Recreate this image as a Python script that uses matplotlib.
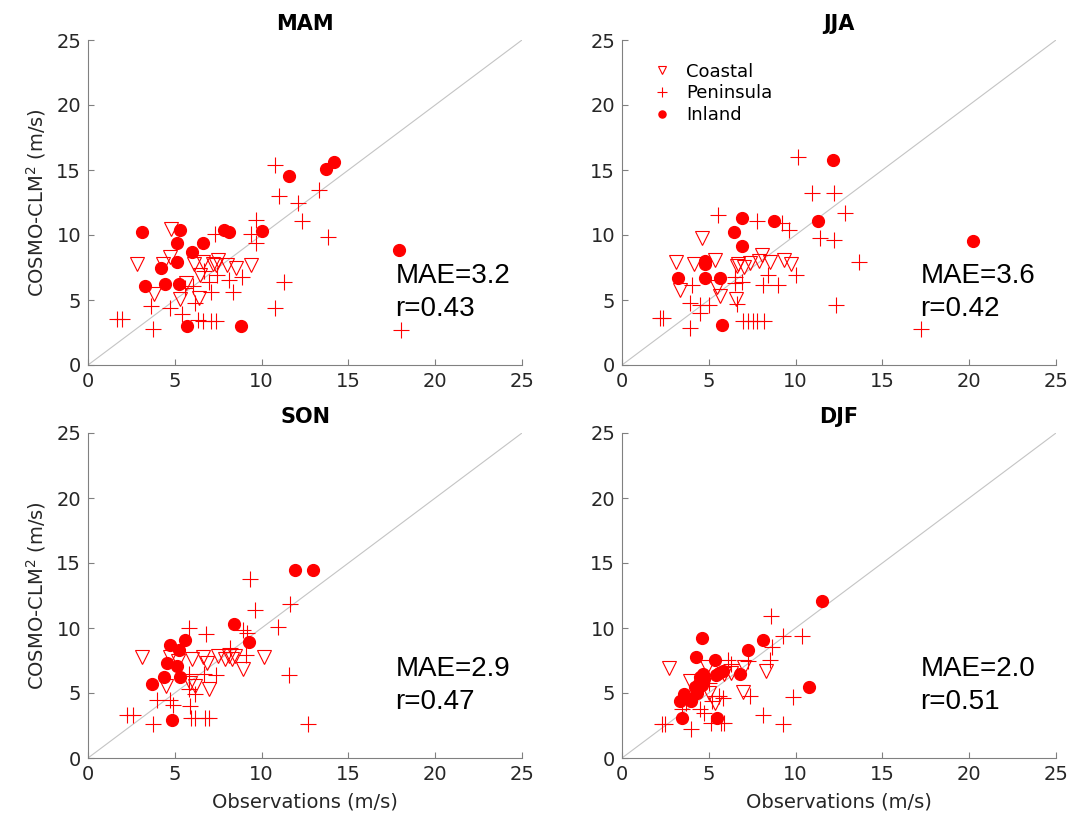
import numpy as np
import matplotlib
matplotlib.use("Agg")
import matplotlib.pyplot as plt

plt.rcParams['font.family'] = ['DejaVu Sans']

seasons = ['MAM', 'JJA', 'SON', 'DJF']
mae = ['3.2', '3.6', '2.9', '2.0']
corr = ['0.43', '0.42', '0.47', '0.51']

# MAM
mam_inland_x = [3.1, 5.3, 5.1, 6.6, 6.0, 7.85, 8.1, 10.05, 4.2, 5.15, 3.3, 4.45, 5.25, 5.7, 8.8, 11.55, 13.7, 14.15, 17.9]
mam_inland_y = [10.2, 10.4, 9.4, 9.35, 8.7, 10.4, 10.25, 10.3, 7.45, 7.95, 6.05, 6.2, 6.2, 3.0, 3.0, 14.55, 15.1, 15.6, 8.85]
mam_coastal_x = [4.8, 2.85, 4.7, 4.3, 3.8, 5.3, 6.1, 6.65, 6.45, 6.4, 7.2, 7.5, 7.4, 8.0, 8.5, 9.4, 5.65]
mam_coastal_y = [10.45, 7.8, 8.3, 7.75, 5.5, 5.05, 7.75, 7.95, 6.9, 5.15, 7.8, 8.1, 7.7, 7.7, 7.45, 7.7, 6.3]
mam_pen_x = [10.75, 11.0, 13.3, 12.1, 12.35, 13.85, 9.7, 9.4, 9.7, 7.3, 11.3, 10.75, 8.85, 8.1, 8.35, 7.45, 6.95,
             7.1, 6.05, 6.15, 5.4, 4.7, 3.65, 3.75, 1.65, 1.95, 6.35, 6.65, 7.1, 7.4, 18.05, 5.6, 6.7]
mam_pen_y = [15.35, 13.0, 13.45, 12.45, 11.05, 9.85, 11.15, 10.1, 9.35, 10.05, 6.4, 4.35, 6.8, 6.55, 5.65, 6.9, 6.4,
             5.65, 6.05, 4.75, 3.95, 4.35, 4.55, 2.8, 3.55, 3.55, 3.45, 3.4, 3.35, 3.35, 2.7, 5.9, 7.2]

# JJA
jja_inland_x = [12.15, 11.3, 6.9, 8.75, 6.45, 6.9, 4.8, 4.8, 3.2, 4.8, 5.65, 5.75, 20.2]
jja_inland_y = [15.75, 11.1, 11.3, 11.1, 10.25, 9.15, 8.0, 7.75, 6.7, 6.7, 6.7, 3.05, 9.55]
jja_coastal_x = [4.6, 3.1, 4.15, 5.35, 3.35, 5.5, 5.65, 6.55, 6.7, 7.05, 7.4, 8.05, 7.9, 8.5, 9.35, 9.75, 6.6]
jja_coastal_y = [9.8, 7.95, 7.8, 8.05, 5.75, 6.0, 5.3, 5.05, 7.8, 7.55, 7.85, 8.45, 8.0, 7.95, 8.05, 7.8, 7.6]
jja_pen_x = [10.15, 10.95, 12.2, 12.85, 11.4, 12.2, 13.65, 12.35, 17.2, 5.55, 7.75, 9.2, 9.6, 10.05, 8.4, 8.1, 9.0,
             6.5, 6.5, 6.9, 4.05, 3.9, 4.5, 4.5, 5.0, 6.6, 2.2, 2.35, 3.9, 6.95, 7.25, 7.55, 7.75, 8.2]
jja_pen_y = [16.0, 13.25, 13.25, 11.7, 9.8, 9.65, 7.95, 4.6, 2.75, 11.55, 11.1, 10.9, 10.35, 6.9, 6.9, 6.15, 6.15,
             6.8, 6.3, 6.4, 6.15, 4.8, 4.6, 4.0, 4.6, 4.7, 3.65, 3.65, 2.85, 3.35, 3.4, 3.4, 3.35, 3.35]

# SON
son_inland_x = [11.95, 12.95, 8.4, 9.3, 4.7, 5.6, 5.25, 4.55, 5.1, 4.4, 5.3, 3.7, 4.85]
son_inland_y = [14.5, 14.5, 10.3, 8.9, 8.7, 9.1, 8.3, 7.3, 7.1, 6.2, 6.2, 5.7, 2.95]
son_coastal_x = [3.1, 4.7, 5.2, 4.5, 6.0, 6.6, 6.85, 6.15, 6.95, 7.5, 7.9, 8.15, 8.45, 8.3, 8.9, 10.15, 5.9]
son_coastal_y = [7.8, 7.8, 7.5, 5.55, 7.6, 7.8, 7.3, 5.55, 5.3, 7.85, 7.6, 7.85, 7.85, 7.6, 6.85, 7.8, 5.8]
son_pen_x = [9.35, 11.65, 9.6, 10.95, 5.8, 6.8, 8.95, 9.15, 11.55, 12.65, 9.1, 8.2, 7.35, 6.7, 5.8, 5.8, 6.15,
             3.95, 4.7, 4.9, 5.85, 2.25, 2.6, 3.75, 5.95, 6.15, 6.75, 6.95]
son_pen_y = [13.8, 11.85, 11.4, 10.1, 10.0, 9.55, 9.85, 9.65, 6.4, 2.65, 7.95, 8.5, 6.4, 6.5, 6.5, 5.3, 4.9,
             4.45, 4.45, 4.05, 4.0, 3.3, 3.3, 2.65, 3.1, 3.1, 3.1, 3.1]

# DJF
djf_inland_x = [11.5, 8.1, 7.25, 4.6, 4.25, 5.35, 10.75, 5.45, 3.45, 6.8, 5.8, 5.6, 5.4, 4.65, 4.5, 4.75, 4.2,
                3.6, 3.35, 4.0, 4.3, 4.6]
djf_inland_y = [12.05, 9.05, 8.3, 9.25, 7.75, 7.55, 5.5, 3.1, 3.1, 6.45, 6.7, 6.55, 6.4, 6.5, 6.2, 6.1, 5.45,
                4.9, 4.4, 4.4, 5.0, 5.6]
djf_coastal_x = [2.7, 4.9, 7.0, 8.3, 6.95, 5.35, 3.9, 5.9, 6.3, 5.0]
djf_coastal_y = [6.95, 7.0, 7.0, 6.7, 5.05, 4.25, 5.95, 6.5, 6.55, 5.0]
djf_pen_x = [8.6, 9.3, 10.35, 8.65, 8.55, 7.25, 6.1, 9.85, 8.1, 9.3, 7.35, 5.8, 5.6, 5.2, 4.5, 4.7, 5.1, 5.7,
             5.9, 2.3, 2.45, 3.95, 3.45, 3.7, 6.3, 5.0]
djf_pen_y = [10.9, 9.4, 9.35, 8.55, 7.55, 7.5, 7.55, 4.7, 3.3, 2.6, 4.8, 4.6, 4.75, 4.4, 3.8, 3.5, 2.7, 2.7,
             2.7, 2.6, 2.6, 2.2, 3.75, 4.2, 7.2, 5.8]

panels = [
    (mam_coastal_x, mam_coastal_y, mam_pen_x, mam_pen_y, mam_inland_x, mam_inland_y),
    (jja_coastal_x, jja_coastal_y, jja_pen_x, jja_pen_y, jja_inland_x, jja_inland_y),
    (son_coastal_x, son_coastal_y, son_pen_x, son_pen_y, son_inland_x, son_inland_y),
    (djf_coastal_x, djf_coastal_y, djf_pen_x, djf_pen_y, djf_inland_x, djf_inland_y),
]

W, H = 1086, 827
fig = plt.figure(figsize=(W / 100, H / 100), dpi=100)
lefts = [88, 622]
tops = [40, 433]
aw, ah = 434, 325

spine_c = '#808080'
txt_c = '#262626'
red = '#ff0000'

for i, season in enumerate(seasons):
    r, c = divmod(i, 2)
    ax = fig.add_axes([lefts[c] / W, 1 - (tops[r] + ah) / H, aw / W, ah / H])
    cx, cy, px, py, ix, iy = panels[i]

    ax.plot([0, 25], [0, 25], color='#c4c4c4', lw=0.8, zorder=1)
    ax.plot(cx, cy, linestyle='none', color=red, marker='v', ms=10.5, mfc='none', mec=red, mew=0.8,
            label='Coastal')
    ax.plot(px, py, linestyle='none', color=red, marker='+', ms=11, mec=red, mew=0.8, label='Peninsula')
    ax.plot(ix, iy, linestyle='none', color=red, marker='o', ms=8.5, mfc=red, mec=red, label='Inland')

    x_txt = 17.7 if c == 0 else 17.2
    ax.text(x_txt, 6.3, 'MAE=' + mae[i], fontsize=20, family='Liberation Sans', color='black', va='baseline')
    ax.text(x_txt, 3.8, 'r=' + corr[i], fontsize=20, family='Liberation Sans', color='black', va='baseline')

    ax.set_xlim(0, 25)
    ax.set_ylim(0, 25)
    ax.set_xticks(np.arange(0, 26, 5))
    ax.set_yticks(np.arange(0, 26, 5))
    for s in ['top', 'right']:
        ax.spines[s].set_visible(False)
    for s in ['left', 'bottom']:
        ax.spines[s].set_color(spine_c)
        ax.spines[s].set_linewidth(0.8)
    ax.tick_params(direction='in', length=4, width=0.8, color=spine_c, labelsize=14,
                   labelcolor=txt_c, pad=5)
    ax.set_title(season, fontsize=15, fontweight='bold', pad=7)
    if c == 0:
        ax.set_ylabel('COSMO-CLM$^2$ (m/s)', fontsize=14, color=txt_c, labelpad=6)
    if r == 1:
        ax.set_xlabel('Observations (m/s)', fontsize=14, color=txt_c, labelpad=6)
    if season == 'JJA':
        ax.legend(loc='upper left', bbox_to_anchor=(0.035, 0.98), frameon=False, fontsize=13,
                  markerscale=0.6, handlelength=1.0, handletextpad=0.8, labelspacing=0.2)

fig.savefig('out.png', dpi=100)
